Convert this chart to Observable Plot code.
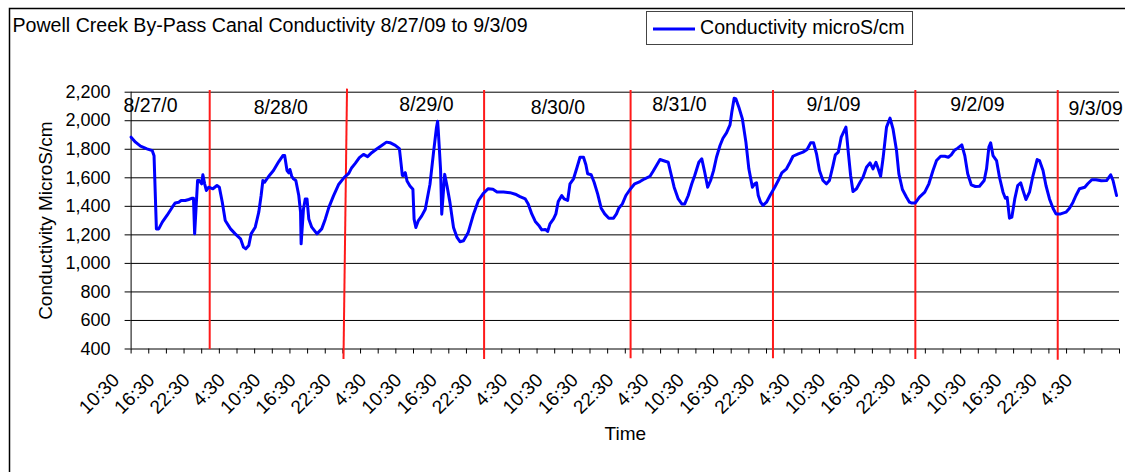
<!DOCTYPE html>
<html><head><meta charset="utf-8">
<script src="https://cdn.jsdelivr.net/npm/d3@7"></script>
<script src="https://cdn.jsdelivr.net/npm/@observablehq/plot@0.6"></script>
<style>
html,body{margin:0;padding:0;background:#fff;}
#chart{position:relative;width:1125px;height:472px;overflow:hidden;}
</style></head><body><div id="chart"></div>
<script>
const chartTitle = "Powell Creek By-Pass Canal Conductivity 8/27/09 to 9/3/09";
const seriesName = "Conductivity microS/cm";
const yLabel = "Conductivity MicroS/cm";
const xLabel = "Time";
const startTime = Date.UTC(2009, 7, 27, 10, 30);   // 8/27/09 10:30
const spanHours = 168;

// hours elapsed since 8/27/09 10:30
const hoursSinceStart = [
0,0.75,1.6,2.7,3.6,3.9,4.3,4.7,5.3,6.1,7.0,7.5,8.1,8.5,9.2,9.8,10.4,10.6,10.8,11.3,
11.6,12.0,12.2,12.5,12.8,13.2,13.9,14.6,15.0,15.5,16.0,16.9,17.7,18.6,19.1,19.5,20.0,20.4,21.1,21.7,
22.1,22.4,22.7,23.4,24.2,25.1,25.8,26.1,26.5,26.8,27.0,27.3,27.6,28.0,28.5,28.8,28.9,29.3,29.6,29.9,
30.2,30.7,31.6,32.4,33.0,
33.6,34.4,35.3,36.2,37.0,37.5,38.1,38.8,39.5,40.2,40.9,41.8,42.6,43.4,44.0,44.9,45.6,45.9,46.1,46.3,
46.6,46.9,47.4,47.9,48.1,48.4,48.8,49.4,50.0,50.8,51.4,51.9,52.1,52.2,52.6,52.8,53.3,53.7,54.2,54.8,
55.4,55.9,56.5,57.3,58.2,59.0,59.9,60.7,61.5,62.2,63.3,64.4,65.3,66.1,
67.0,67.5,68.1,68.7,69.3,69.8,70.4,70.8,71.2,71.8,72.2,72.6,73.2,73.6,74.2,74.6,75.2,75.8,76.3,76.9,
77.3,77.6,78.2,78.7,79.3,79.9,80.5,81.2,82.0,82.5,82.9,83.5,84.1,84.8,85.6,86.5,87.3,88.2,88.7,89.3,
89.9,90.4,91.3,91.7,92.3,93.0,93.6,94.1,94.7,95.3,95.8,96.5,97.0,97.5,98.0,98.5,99.0,99.5,100.1,100.6,
101.2,101.8,102.1,102.5,102.8,103.3,103.9,104.5,105.0,105.6,106.0,106.3,106.6,107.0,107.4,108.0,108.6,109.4,110.0,110.6,
111.4,112.0,112.5,113.4,114.2,114.9,115.5,116.0,116.5,117.0,117.6,118.2,118.7,119.3,119.7,120.2,120.7,121.5,121.9,122.3,
122.7,123.3,123.9,124.4,125.0,125.6,126.1,126.6,126.9,127.4,127.8,128.4,129.0,129.5,130.1,130.5,131.1,131.8,132.3,132.6,
133.3,134.0,134.9,135.6,136.3,136.9,137.6,138.3,138.9,139.4,139.9,140.5,141.2,141.7,142.2,142.8,143.5,144.2,145.0,145.4,
145.8,146.1,146.5,147.1,147.6,148.2,148.6,148.9,149.3,149.7,150.2,150.7,151.2,151.6,152.1,152.7,153.3,154.0,154.4,155.0,
155.5,156.1,156.7,157.2,158.0,158.9,159.5,160.1,160.6,161.2,162.1,162.6,163.3,164.0,164.9,165.8,166.5,166.9,167.5
];
const conductivity = [
1885,1850,1822,1803,1790,1755,1242,1242,1289,1336,1394,1424,1429,1441,1441,1448,1457,1457,1207,1581,
1581,1558,1621,1558,1511,1534,1523,1546,1534,1429,1301,1242,1207,1172,1114,1102,1125,1207,1254,1359,
1476,1581,1569,1611,1651,1714,1756,1756,1651,1635,1658,1611,1593,1581,1476,1359,1137,1382,1452,1452,
1312,1254,1207,1242,1310,
1391,1473,1555,1601,1631,1671,1701,1741,1764,1748,1776,1804,1827,1850,1846,1827,1804,1694,1617,1617,
1636,1578,1543,1520,1310,1252,1298,1333,1380,1555,1776,1951,1997,1939,1659,1345,1624,1543,1426,1252,
1182,1152,1159,1217,1345,1438,1492,1524,1520,1501,1501,1496,1485,1468,
1452,1417,1347,1294,1266,1235,1238,1224,1277,1312,1347,1434,1476,1452,1441,1558,1593,1674,1744,1744,
1691,1628,1621,1569,1487,1387,1347,1317,1317,1347,1387,1417,1476,1518,1558,1574,1593,1611,1644,1686,
1728,1721,1709,1639,1534,1452,1417,1417,1476,1558,1616,1709,1733,1639,1534,1581,1650,1744,1826,1877,
1915,1971,2060,2158,2153,2095,2013,1850,1663,1534,1558,1565,1476,1429,1406,1429,1476,1534,1581,1635,
1663,1709,1751,1768,1780,1798,1845,1845,1768,1651,1581,1558,1581,1686,1761,1780,1885,1955,1780,1616,
1504,1523,1569,1604,1674,1705,1663,1709,1674,1611,1733,1955,2018,1943,1791,1628,1518,1464,1429,1424,
1424,1464,1499,1558,1651,1721,1751,1751,1744,1761,1791,1808,1831,1756,1628,1551,1539,1541,1581,1663,
1815,1845,1756,1721,1604,1499,1457,1464,1317,1324,1452,1546,1565,1511,1448,1499,1616,1728,1721,1651,
1546,1452,1387,1347,1347,1359,1387,1429,1476,1523,1534,1558,1586,1586,1579,1581,1621,1581,1476
];

const timeTickLabels = [
"10:30","16:30","22:30","4:30","10:30","16:30","22:30","4:30","10:30","16:30","22:30","4:30",
"10:30","16:30","22:30","4:30","10:30","16:30","22:30","4:30","10:30","16:30","22:30","4:30",
"10:30","16:30","22:30","4:30"
];
const yTickValues = [400,600,800,1000,1200,1400,1600,1800,2000,2200];

const dayLabels = ["8/27/0","8/28/0","8/29/0","8/30/0","8/31/0","9/1/09","9/2/09","9/3/09"];
const dayLabelHours = [3.3,25.45,50.2,72.55,93.2,119.4,143.85,163.95];
const dayLabelValues = [2107,2091,2112,2091,2112,2115,2114,2084];

// hand-drawn red day dividers (top and bottom ends)
const dividerTopHours = [13.36,36.7,60.0,84.9,109.1,133.3,157.5];
const dividerBottomHours = [13.36,36.1,60.0,84.9,109.1,133.3,157.5];
const dividerTopValues = [2215,2225,2215,2215,2215,2215,2215];
const dividerBottomValues = [400,330,330,335,335,330,325];

const toDate = h => new Date(startTime + h * 3600e3);
const series = hoursSinceStart.map((h, i) => ({t: toDate(h), v: conductivity[i]}));
const tickDates = d3.range(0, spanHours + 1, 3).map(toDate);
const labelRows = timeTickLabels.map((s, i) => ({t: toDate(i * 6), s}));
const dayRows = dayLabels.map((s, i) => ({t: toDate(dayLabelHours[i]), v: dayLabelValues[i], s}));
const dividerRows = dividerTopHours.map((h, i) => ({
  x1: toDate(h), x2: toDate(dividerBottomHours[i]), y1: dividerTopValues[i], y2: dividerBottomValues[i]}));

const FONT = "'Liberation Sans', Arial, sans-serif";
const svg = Plot.plot({
  width: 1125, height: 472,
  marginLeft: 130.6, marginRight: 6, marginTop: 91.7, marginBottom: 123.5,
  style: {fontFamily: FONT, fontSize: "18px", background: "transparent", overflow: "visible", color: "black"},
  x: {type: "utc", domain: [toDate(0), toDate(spanHours)]},
  y: {domain: [400, 2200]},
  marks: [
    Plot.ruleY(yTickValues, {stroke: "black", strokeWidth: 1}),
    Plot.ruleX([toDate(0)], {y1: 400, y2: 2200, stroke: "black", strokeWidth: 1}),
    Plot.axisY({ticks: yTickValues, tickSize: 6, tickFormat: () => "", label: null, stroke: "black"}),
    Plot.text(yTickValues, {y: d => d, text: d => d3.format(",")(d), frameAnchor: "left", textAnchor: "end",
      lineAnchor: "middle", dx: -20.6, fontSize: 18, fill: "black"}),
    Plot.axisX({ticks: tickDates, tickSize: 5, tickFormat: () => "", label: null, stroke: "black"}),
    Plot.text(labelRows, {x: "t", text: "s", frameAnchor: "bottom", rotate: -45, textAnchor: "end",
      lineAnchor: "middle", dx: -15, dy: 28, fontSize: 19, fill: "black"}),
    Plot.link(dividerRows, {x1: "x1", x2: "x2", y1: "y1", y2: "y2", stroke: "#ff1a1a", strokeWidth: 2, clip: false}),
    Plot.text(dayRows, {x: "t", y: "v", text: "s", fontSize: 19.5, fill: "black", lineAnchor: "middle"}),
    Plot.line(series, {x: "t", y: "v", stroke: "#0000ff", strokeWidth: 3, strokeLinejoin: "round"}),
    Plot.text([xLabel], {frameAnchor: "bottom", textAnchor: "middle", dy: 90.5, fontSize: 19, fill: "black"}),
    Plot.text([yLabel], {frameAnchor: "left", textAnchor: "middle", rotate: -90, dx: -85, fontSize: 19, fill: "black"})
  ]
});

const s = d3.select(svg);
s.append("path").attr("d", "M9.5,480V8.5H1130").attr("fill", "none").attr("stroke", "black").attr("stroke-width", 1.5);
s.append("text").attr("x", 12.5).attr("y", 32).attr("font-size", 19.6).attr("font-family", FONT)
  .attr("text-anchor", "start").attr("fill", "black").text(chartTitle);
const lg = s.append("g");
lg.append("rect").attr("x", 646.5).attr("y", 11.5).attr("width", 266).attr("height", 33)
  .attr("fill", "white").attr("stroke", "#444").attr("stroke-width", 1);
lg.append("line").attr("x1", 653).attr("x2", 695).attr("y1", 29).attr("y2", 29)
  .attr("stroke", "#0000ff").attr("stroke-width", 3);
lg.append("text").attr("x", 700).attr("y", 34).attr("font-size", 19.6).attr("font-family", FONT)
  .attr("text-anchor", "start").attr("fill", "black").text(seriesName);

document.getElementById("chart").appendChild(svg);
</script></body></html>
